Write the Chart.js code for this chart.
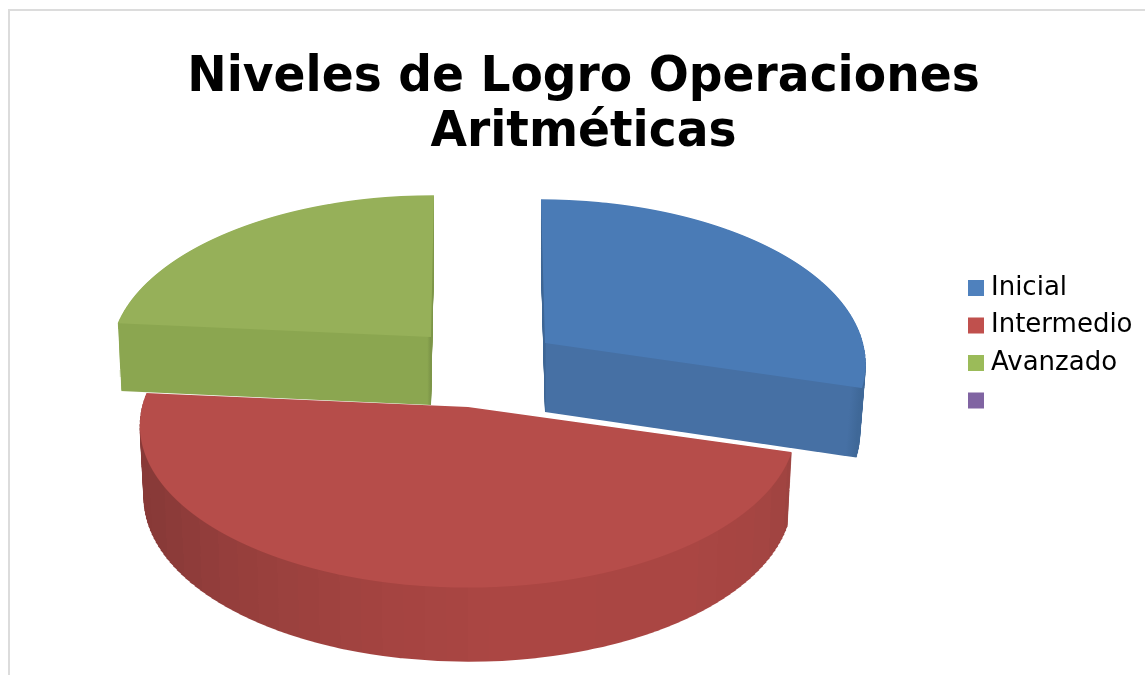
<!DOCTYPE html>
<html>
<head>
<meta charset="utf-8">
<script src="https://cdn.jsdelivr.net/npm/chart.js@4"></script>
<style>
html,body{margin:0;padding:0;background:#fff;overflow:hidden}
#frame{position:absolute;left:8px;top:9px;width:1200px;height:700px;border-left:2px solid #dcdcdc;border-top:2px solid #dcdcdc}
canvas{position:absolute;left:0;top:0}
</style>
</head>
<body>
<div id="frame"></div>
<canvas id="c" width="1145" height="675"></canvas>
<script>
const titleLines = ['Niveles de Logro Operaciones', 'Aritméticas'];
const categories = ['Inicial', 'Intermedio', 'Avanzado', ''];
const shares = [29.4, 47, 23.6, 0];
const legendColors = ['#4f81bd', '#c0504d', '#9bbb59', '#8064a2'];

const FONT = "'DejaVu Sans'";
const PERSPECTIVE = 0.114;
const views = [
  {x: 545, y: 343, W: 318, A: 160, k: 4.5, depth: 69, shrink: 0.018, top: '#4a7bb6', order: 2, facets: 0,
   wall: [[0, '#4670a4'], [0.5, '#3d6594'], [0.502, '#4670a4'], [0.965, '#4670a4'], [0.98, '#3f6898'], [1, '#3f6898']]},
  {x: 468, y: 407, W: 326, A: 160, k: 0, depth: 72, shrink: 0.012, top: '#b64d4a', order: 0, facets: 34,
   wall: [[0, '#873937'], [0.06, '#8a3a38'], [0.14, '#933d3b'], [0.26, '#9c413e'], [0.4, '#a54441'], [0.55, '#ab4643'], [0.8, '#aa4643'], [0.92, '#a54542'], [1, '#9b423f']]},
  {x: 431, y: 337, W: 318, A: 158, k: -3.3, depth: 68, shrink: 0.01, top: '#96b059', order: 1, facets: 0,
   wall: [[0, '#8ba650'], [0.494, '#8ba650'], [0.499, '#7d9648'], [1, '#7d9648']]}
];
const TITLE_SQUEEZE = 0.934;
const TITLE_CENTER = 583.5;

function rgb(h) {
  return [1, 3, 5].map(i => parseInt(h.substr(i, 2), 16));
}
function wallColor(stops, f) {
  for (let i = 1; i < stops.length; i++) {
    if (f <= stops[i][0]) {
      const m = (f - stops[i - 1][0]) / (stops[i][0] - stops[i - 1][0] || 1);
      const a = rgb(stops[i - 1][1]), b = rgb(stops[i][1]);
      return 'rgb(' + a.map((q, j) => Math.round(q + (b[j] - q) * m)).join(',') + ')';
    }
  }
  return stops[stops.length - 1][1];
}

function bandDraw(ctx, arc, v, color, rowStep, t) {
  const R = arc.outerRadius;
  const p = PERSPECTIVE;
  const xs = v.x;
  const ys = v.y + t * v.depth;
  const W = v.W * (1 - v.shrink * t);
  const A = v.A * (1 + 0.012 * t);
  const sa = Math.sin(arc.startAngle), ea = Math.sin(arc.endAngle);
  const tau = Math.PI * 2;
  const spans = a => {
    let x = (a - arc.startAngle) % tau;
    if (x < 0) x += tau;
    return x <= arc.endAngle - arc.startAngle + 1e-6;
  };
  const vMin = spans(-Math.PI / 2) ? -1 : Math.min(0, sa, ea);
  const vMax = spans(Math.PI / 2) ? 1 : Math.max(0, sa, ea);
  const y0 = Math.floor(ys + A * vMin / (1 - p * vMin)) - 2;
  const y1 = Math.ceil(ys + A * vMax / (1 - p * vMax)) + 2;
  const saved = arc.options;
  arc.options = Object.assign({}, saved, {backgroundColor: color, borderWidth: 0});
  for (let row = y0; row < y1; row += rowStep) {
    const Ym = row + rowStep / 2;
    const dY = Ym - ys;
    const vm = dY / (A + p * dY);
    const den = 1 - p * vm;
    const a = W / (R * den);
    const c = v.k / (R * den);
    const d = A / (den * den * R);
    ctx.save();
    ctx.beginPath();
    ctx.rect(0, row, 1145, rowStep);
    ctx.clip();
    ctx.transform(a, 0, c, d, xs - a * arc.x - c * arc.y, Ym - d * (arc.y + vm * R));
    arc.draw(ctx);
    ctx.restore();
  }
  arc.options = saved;
}

const pie3d = {
  id: 'pie3d',
  afterLayout(chart) {
    const lg = chart.legend;
    const pad = lg.options.labels.padding;
    lg.left = 974 - pad;
    lg.right = 1145;
    lg.top = 275 - pad;
    lg.bottom = 675;
    const tb = chart.titleBlock;
    if (!tb.$squeezed) {
      tb.$squeezed = true;
      const drawTitle = tb.draw;
      tb.draw = function () {
        const ctx = chart.ctx;
        ctx.save();
        ctx.translate(TITLE_CENTER, 0);
        ctx.scale(TITLE_SQUEEZE, 1);
        ctx.translate(-TITLE_CENTER, 0);
        drawTitle.call(tb);
        ctx.restore();
      };
    }
  },
  beforeDatasetsDraw(chart) {
    const ctx = chart.ctx;
    const arcs = chart.getDatasetMeta(0).data;
    const order = views.map((v, i) => i).sort((a, b) => views[a].order - views[b].order);
    for (const i of order) {
      const arc = arcs[i], v = views[i], R = arc.outerRadius;
      const g = ctx.createLinearGradient(arc.x - R, 0, arc.x + R, 0);
      if (v.facets) {
        for (let n = 0; n < v.facets; n++) {
          const col = wallColor(v.wall, (n + 0.5) / v.facets);
          g.addColorStop(n / v.facets, col);
          g.addColorStop((n + 1) / v.facets, col);
        }
      } else {
        v.wall.forEach(s => g.addColorStop(s[0], s[1]));
      }
      for (let dz = v.depth; dz >= 1; dz -= 1) {
        bandDraw(ctx, arc, v, g, 4, dz / v.depth);
      }
      bandDraw(ctx, arc, v, v.top, 1, 0);
    }
    return false;
  }
};

new Chart(document.getElementById('c'), {
  type: 'pie',
  data: {
    labels: categories,
    datasets: [{data: shares, backgroundColor: legendColors, borderWidth: 0}]
  },
  options: {
    responsive: false,
    animation: false,
    layout: {padding: {left: 22}},
    plugins: {
      tooltip: {enabled: false},
      title: {
        display: true,
        text: titleLines,
        color: '#000',
        font: {family: FONT, size: 50.5, weight: 'bold', lineHeight: 1.09},
        padding: {top: 50.5, bottom: 10}
      },
      legend: {
        position: 'right',
        align: 'start',
        labels: {
          color: '#000',
          font: {family: FONT, size: 26},
          usePointStyle: true,
          pointStyle: 'rect',
          boxWidth: 4,
          boxHeight: 16,
          padding: 11.5
        }
      }
    }
  },
  plugins: [pie3d]
});
</script>
</body>
</html>
